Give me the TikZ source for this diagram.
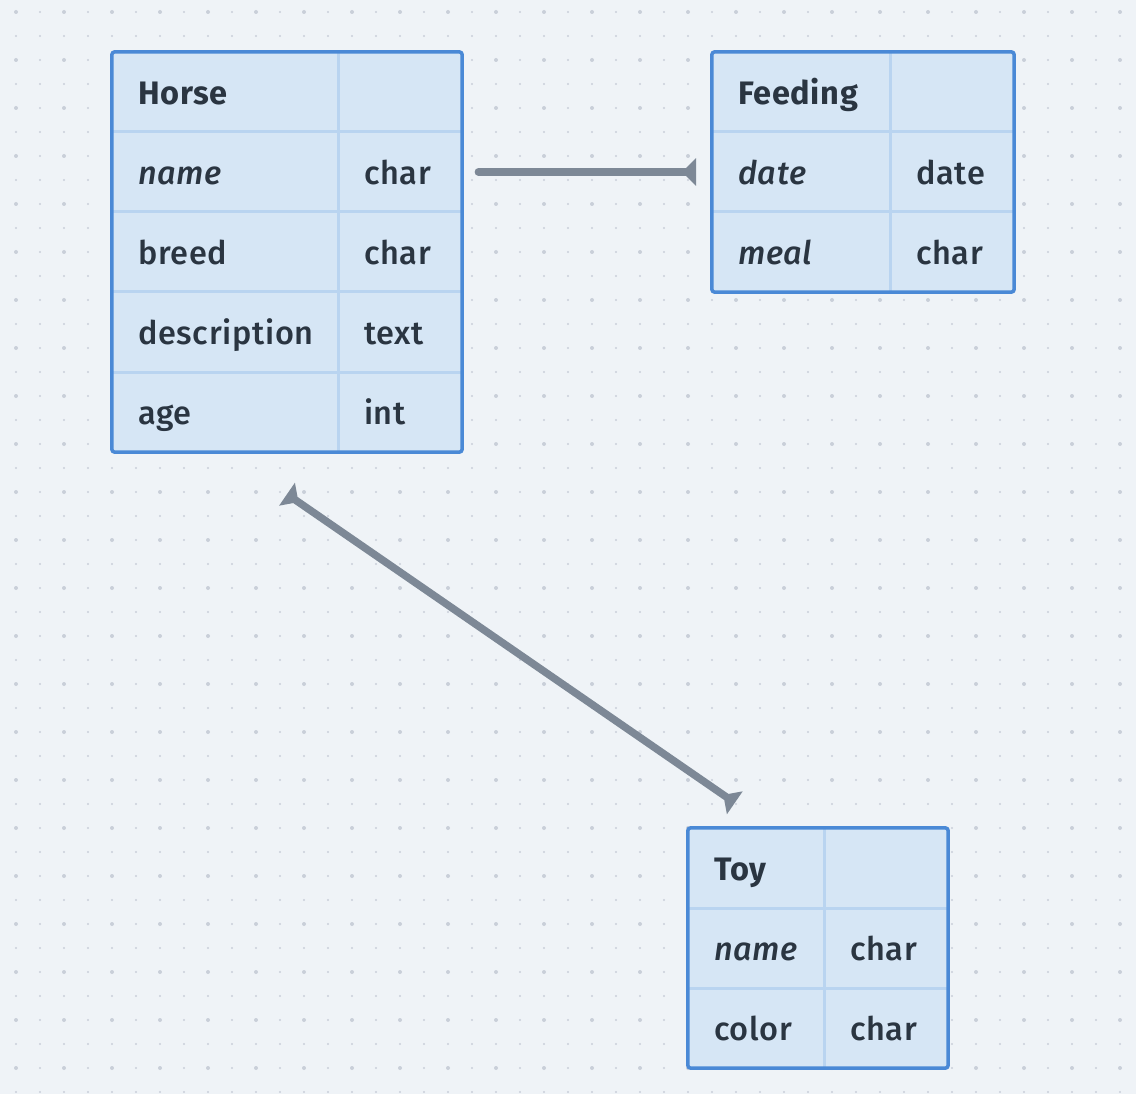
\documentclass[tikz,border=0pt]{standalone}
\usepackage{fontspec}
\setmainfont{Fira Sans}[UprightFont=* Medium,ItalicFont=* Medium Italic,BoldFont=* Bold,LetterSpace=2]
\usetikzlibrary{arrows.meta}
\definecolor{canvas}{HTML}{EFF3F7}
\definecolor{dotgray}{HTML}{C9CFD9}
\definecolor{cellblue}{HTML}{D6E6F5}
\definecolor{gridblue}{HTML}{B9D4F0}
\definecolor{frameblue}{HTML}{4A89D6}
\definecolor{inkdark}{HTML}{2A3541}
\definecolor{linkgray}{HTML}{7D8896}
\begin{document}
\begin{tikzpicture}
	[x=1pt,y=-1pt,
	 tbl/.style={fill=cellblue,draw=none,inner sep=0pt},
	 frame/.style={draw=frameblue,line width=3.5pt,rounded corners=3pt},
	 grid/.style={draw=gridblue,line width=3pt},
	 cell/.style={anchor=west,inner xsep=26pt,inner ysep=0pt,minimum height=80pt,
	   align=left,text height=25.5pt,text depth=1pt,text=inkdark,
	   font=\fontsize{32.5}{36}\selectfont},
	 keycol/.style={cell,text width=174pt},
	 link/.style={draw=linkgray,line width=7.5pt,line cap=round},
	 >={Triangle[reversed,length=14pt,width=27pt]}]
    % canvas and dot grid
    \fill[canvas] (0,0) rectangle (1136,1094);
    \foreach \i in {0,...,46}
      \foreach \j in {0,...,45}
        \fill[dotgray] (16+24*\i,12+24*\j) circle (1.1pt);
    \foreach \i in {0,...,23}
      \foreach \j in {0,...,22}
        \fill[dotgray] (16+48*\i,12+48*\j) circle (2pt);
    % Horse
    \node[tbl,minimum width=350pt,minimum height=400pt] (horse) at (287,252) {};
    \draw[grid] (112,132) -- (462,132);
    \draw[grid] (112,212) -- (462,212);
    \draw[grid] (112,292) -- (462,292);
    \draw[grid] (112,372) -- (462,372);
    \draw[grid] (338,52) -- (338,452);
    \draw[frame] (horse.north west) rectangle (horse.south east);
    \node[keycol] (horse-title) at (112,92) {\bfseries Horse};
    \node[keycol] (horse-name) at (112,172) {\itshape name};
    \node[cell,text width=72pt] (horse-name-type) at (338,172) {char};
    \node[keycol] (horse-breed) at (112,252) {breed};
    \node[cell,text width=72pt] (horse-breed-type) at (338,252) {char};
    \node[keycol] (horse-desc) at (112,332) {description};
    \node[cell,text width=72pt] (horse-desc-type) at (338,332) {text};
    \node[keycol] (horse-age) at (112,412) {age};
    \node[cell,text width=72pt] (horse-age-type) at (338,412) {int};
    % Feeding
    \node[tbl,minimum width=302pt,minimum height=240pt] (feeding) at (863,172) {};
    \draw[grid] (712,132) -- (1014,132);
    \draw[grid] (712,212) -- (1014,212);
    \draw[grid] (890,52) -- (890,292);
    \draw[frame] (feeding.north west) rectangle (feeding.south east);
    \node[cell,text width=126pt] (feeding-title) at (712,92) {\bfseries Feeding};
    \node[cell,text width=126pt] (feeding-date) at (712,172) {\itshape date};
    \node[cell,text width=72pt] (feeding-date-type) at (890,172) {date};
    \node[cell,text width=126pt] (feeding-meal) at (712,252) {\itshape meal};
    \node[cell,text width=72pt] (feeding-meal-type) at (890,252) {char};
    % Toy
    \node[tbl,minimum width=260pt,minimum height=240pt] (toy) at (818,948) {};
    \draw[grid] (688,908) -- (948,908);
    \draw[grid] (688,988) -- (948,988);
    \draw[grid] (824,828) -- (824,1068);
    \draw[frame] (toy.north west) rectangle (toy.south east);
    \node[cell,text width=84pt] (toy-title) at (688,868) {\bfseries Toy};
    \node[cell,text width=84pt] (toy-name) at (688,948) {\itshape name};
    \node[cell,text width=72pt] (toy-name-type) at (824,948) {char};
    \node[cell,text width=84pt] (toy-color) at (688,1028) {color};
    \node[cell,text width=72pt] (toy-color-type) at (824,1028) {char};
    % links
    \coordinate (horse-foot) at ([yshift=-42pt]horse.south);
    \coordinate (toy-head) at ([xshift=47pt,yshift=25pt]toy.north west);
    \draw[link,->] ([xshift=16pt]horse-name-type.east) -- ([xshift=-16pt]feeding-date.west);
    \draw[link,<->] (horse-foot) -- (toy-head);
\end{tikzpicture}
\end{document}
